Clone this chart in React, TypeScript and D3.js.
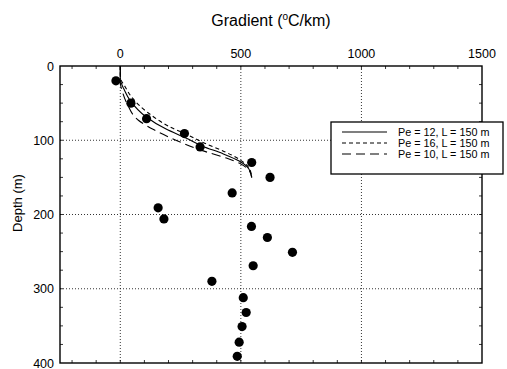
import React from "react";
import * as d3 from "d3";

const W = 507;
const H = 369;

// Observed data: [gradient °C/km, depth m]
const obsGradient = [-18, 44, 109, 266, 331, 545, 621, 464, 157, 181, 544, 610, 714, 551, 380, 510, 522, 505, 493, 485];
const obsDepth = [20, 50, 71, 91, 109, 130, 150, 171, 191, 206, 216, 231, 251, 269, 290, 312, 332, 351, 372, 391];

// Model curves
const pe12Gradient = [0, 0, 15, 42, 105, 190, 272, 341, 424, 493, 534, 545];
const pe12Depth = [0, 18, 31, 47, 68, 85, 97, 108, 118, 128, 139, 150];
const pe16Gradient = [0, 0, 20, 50, 115, 200, 280, 350, 430, 495, 535, 545];
const pe16Depth = [0, 15, 28, 43, 63, 81, 93, 104, 115, 126, 138, 150];
const pe10Gradient = [0, 0, 10, 30, 75, 140, 210, 290, 360, 440, 500, 535, 545];
const pe10Depth = [0, 22, 36, 52, 73, 86, 97, 108, 116, 124, 132, 141, 150];

const xTicks = [0, 500, 1000, 1500];
const yTicks = [0, 100, 200, 300, 400];
const legendLabels = ["Pe = 12, L = 150 m", "Pe = 16, L = 150 m", "Pe = 10, L = 150 m"];

export default function App() {
  const x = d3.scaleLinear().domain([-250, 1500]).range([60, 482]);
  const y = d3.scaleLinear().domain([0, 400]).range([66, 363]);
  const [x0, x1] = x.range();
  const [y0, y1] = y.range();

  const line = (gs: number[], ds: number[]) =>
    d3
      .line<number>()
      .x((_, i) => x(gs[i]))
      .y((_, i) => y(ds[i]))
      .curve(d3.curveMonotoneY)(gs) as string;

  const minorX = d3.range(-200, 1500, 100);
  const minorY = d3.range(25, 400, 25);
  const font = "Liberation Sans, Arial, sans-serif";

  const curves = [
    { g: pe12Gradient, d: pe12Depth, dash: "none", w: 1.1 },
    { g: pe16Gradient, d: pe16Depth, dash: "4,3", w: 1.1 },
    { g: pe10Gradient, d: pe10Depth, dash: "9,5", w: 1.1 },
  ];

  return (
    <svg width={W} height={H} style={{ position: "absolute", left: 0, top: 0, background: "#fff" }}>
      <rect x={0} y={0} width={W} height={H} fill="#fff" />
      {/* grid */}
      {[0, 500, 1000].map((v) => (
        <line key={"gx" + v} x1={x(v)} x2={x(v)} y1={y0} y2={y1} stroke="#000" strokeWidth={0.8} strokeDasharray="1,2" />
      ))}
      {[100, 200, 300].map((v) => (
        <line key={"gy" + v} x1={x0} x2={x1} y1={y(v)} y2={y(v)} stroke="#000" strokeWidth={0.8} strokeDasharray="1,2" />
      ))}
      {/* minor ticks */}
      {minorX.map((v) => (
        <g key={"mx" + v}>
          <line x1={x(v)} x2={x(v)} y1={y0} y2={y0 + 3} stroke="#000" strokeWidth={0.8} />
          <line x1={x(v)} x2={x(v)} y1={y1} y2={y1 - 3} stroke="#000" strokeWidth={0.8} />
        </g>
      ))}
      {minorY.map((v) => (
        <g key={"my" + v}>
          <line x1={x0} x2={x0 + 3} y1={y(v)} y2={y(v)} stroke="#000" strokeWidth={0.8} />
          <line x1={x1} x2={x1 - 3} y1={y(v)} y2={y(v)} stroke="#000" strokeWidth={0.8} />
        </g>
      ))}
      {/* frame */}
      <rect x={x0} y={y0} width={x1 - x0} height={y1 - y0} fill="none" stroke="#000" strokeWidth={1.4} />
      {/* tick labels */}
      {xTicks.map((v) => (
        <text key={"tx" + v} x={x(v)} y={y0 - 8} textAnchor="middle" fontFamily={font} fontSize={12.5} fill="#000">
          {v}
        </text>
      ))}
      {yTicks.map((v) => (
        <text key={"ty" + v} x={x0 - 6} y={y(v) + 4.5} textAnchor="end" fontFamily={font} fontSize={12.5} fill="#000">
          {v}
        </text>
      ))}
      {/* titles */}
      <text x={271} y={26} textAnchor="middle" fontFamily={font} fontSize={16} fill="#000">
        Gradient (<tspan dy={-6} fontSize={10}>o</tspan>
        <tspan dy={6}>C/km)</tspan>
      </text>
      <text
        transform={`translate(22,${203}) rotate(-90)`}
        textAnchor="middle"
        fontFamily={font}
        fontSize={13}
        fill="#000"
      >
        Depth (m)
      </text>
      {/* curves */}
      {curves.map((c, i) => (
        <path key={"c" + i} d={line(c.g, c.d)} fill="none" stroke="#000" strokeWidth={c.w} strokeDasharray={c.dash} />
      ))}
      {/* points */}
      {obsGradient.map((g, i) => (
        <circle key={"p" + i} cx={x(g)} cy={y(obsDepth[i])} r={4.6} fill="#000" />
      ))}
      {/* legend */}
      <rect x={331} y={122} width={172} height={52} fill="#fff" stroke="#000" strokeWidth={1.3} />
      {legendLabels.map((lab, i) => {
        const ly = 132 + i * 11;
        return (
          <g key={"lg" + i}>
            <line x1={342} x2={387} y1={ly} y2={ly} stroke="#000" strokeWidth={1.1} strokeDasharray={curves[i].dash} />
            <text x={398} y={ly + 3.8} fontFamily={font} fontSize={10.8} fill="#000">
              {lab}
            </text>
          </g>
        );
      })}
    </svg>
  );
}
